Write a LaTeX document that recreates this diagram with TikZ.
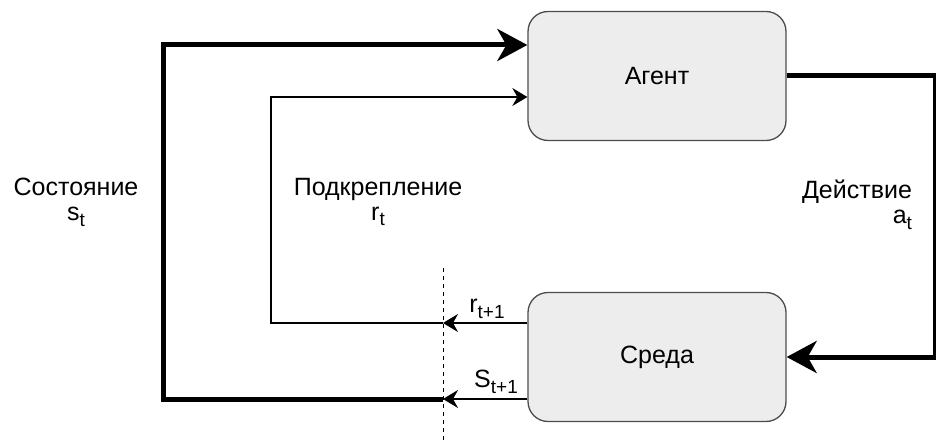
\documentclass[tikz,border=0pt]{standalone}
\usepackage{fontspec}
\setmainfont{Liberation Sans}
\usetikzlibrary{arrows.meta}
\newcommand\lowidx[1]{\raisebox{-0.45ex}{\fontsize{19}{20}\selectfont #1}}
\begin{document}
\begin{tikzpicture}[x=1pt,y=-1pt,
  box/.style={draw=black!70,line width=1.3pt,fill=black!7,rounded corners=20pt,
    minimum width=258pt,minimum height=129pt,inner sep=0pt,font=\fontsize{25}{27}\selectfont},
  lbl/.style={font=\fontsize{25}{25}\selectfont,inner sep=0pt,align=center},
  heavy/.style={line width=5pt},
  heavyarrow/.style={line width=5pt,-{Stealth[length=30pt,width=32pt,inset=9pt]}},
  lightarrow/.style={line width=1.4pt,-{Stealth[length=15pt,width=18pt,inset=5pt]}},
  light/.style={line width=1.4pt}]
\useasboundingbox (0,0) rectangle (936,443);
\node[box] (agent) at (657,76) {Агент};
\node[box] (env) at (657,357) {Среда};
% dashed separator
\coordinate (dTop) at (443,268);
\coordinate (dBot) at (443,443);
\draw[line width=1pt,dash pattern=on 4pt off 4pt] (dTop) -- (dBot);
% action loop
\coordinate (aR) at (935,76);
\draw[heavyarrow] (agent.east) -- (aR) |- (env.east);
% state loop
\coordinate (dS) at (443,399);
\coordinate (sBL) at (163,399);
\coordinate (sTL) at (163,45);
\draw[lightarrow] (env.west |- dS) -- (dS);
\draw[heavyarrow] (dS) -- (sBL) -- (sTL) -- (agent.west |- sTL);
% reward loop
\coordinate (dR) at (443,323);
\coordinate (rBL) at (271,323);
\coordinate (rTL) at (271,97);
\draw[lightarrow] (env.west |- dR) -- (dR);
\draw[lightarrow] (dR) -- (rBL) -- (rTL) -- (agent.west |- rTL);
% labels
\node[lbl] (lstate) at (76,202) {Состояние\\s\lowidx{t}};
\node[lbl] (lrew) at (378,202) {Подкрепление\\r\lowidx{t}};
\node[lbl,align=right] (lact) at (857,205) {Действие\\a\lowidx{t}};
\node[lbl] (lr1) at (487,309) {r\lowidx{t+1}};
\node[lbl] (ls1) at (496,382) {S\lowidx{t+1}};
\end{tikzpicture}
\end{document}
